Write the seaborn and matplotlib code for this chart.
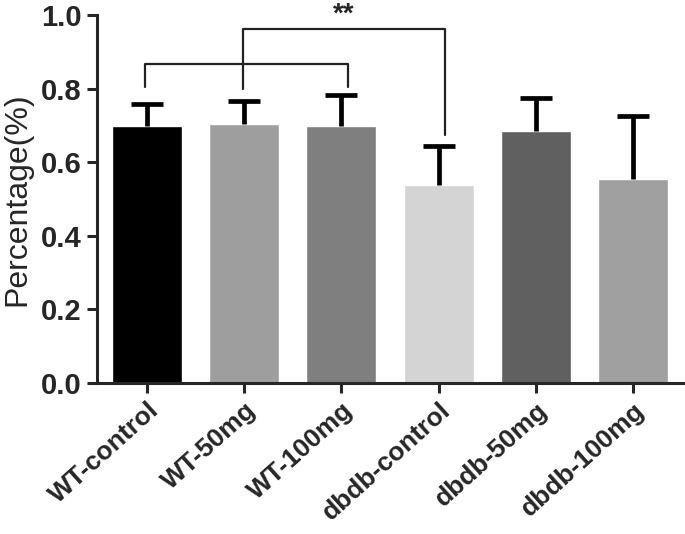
import matplotlib
matplotlib.use("Agg")
from matplotlib import pyplot as plt
import seaborn as sns
import numpy as np
import pandas as pd

groups = ["WT-control", "WT-50mg", "WT-100mg", "dbdb-control", "dbdb-50mg", "dbdb-100mg"]
means = [0.698, 0.704, 0.698, 0.538, 0.685, 0.554]
errs = [0.060, 0.062, 0.085, 0.106, 0.089, 0.172]
colors = ["#000000", "#9e9e9e", "#7f7f7f", "#d4d4d4", "#606060", "#a0a0a0"]

sns.set_style("ticks")
plt.rcParams['font.family'] = ['Liberation Sans', 'DejaVu Sans']

df = pd.DataFrame({"group": groups, "value": means})

fig = plt.figure(figsize=(6.85, 5.34), dpi=100)
ax = fig.add_axes([0.1416, 0.283, 0.855, 0.689])

sns.barplot(data=df, x="group", y="value", hue="group", palette=colors,
            legend=False, width=0.72, errorbar=None, saturation=1, ax=ax)

x = np.arange(len(groups))
eb = ax.errorbar(x, means, yerr=[np.zeros(len(errs)), errs], fmt="none",
                 ecolor="black", elinewidth=3.4, capsize=11.5, capthick=3.4, zorder=3)
# only upper caps
eb[1][0].set_visible(False)

# significance brackets
lw = 1.6
ax.plot([-0.02, -0.02, 2.07, 2.07], [0.805, 0.868, 0.868, 0.803], color="#222222", lw=lw)
ax.plot([0.99, 0.99, 3.07, 3.07], [0.800, 0.963, 0.963, 0.675], color="#222222", lw=lw)
ax.text(2.02, 0.965, "**", ha="center", va="bottom", fontsize=20, fontweight="bold")

ax.set_xlim(-0.515, 5.51)
ax.set_ylim(0, 1.0)
ax.set_yticks([0.0, 0.2, 0.4, 0.6, 0.8, 1.0])
ax.set_yticklabels(["0.0", "0.2", "0.4", "0.6", "0.8", "1.0"], fontsize=21, fontweight="bold")
ax.set_xticks(x)
ax.set_xticklabels(groups, rotation=42, ha="right", rotation_mode="anchor",
                   fontsize=19, fontweight="bold")
ax.set_xlabel("")
ax.set_ylabel("Percentage(%)", fontsize=23, labelpad=6)

sns.despine(ax=ax)
for s in ["left", "bottom"]:
    ax.spines[s].set_linewidth(2.2)
ax.tick_params(axis="both", width=2.2, length=7, direction="out", pad=4)
ax.tick_params(axis="x", pad=4)

fig.savefig("out.png", dpi=100)
